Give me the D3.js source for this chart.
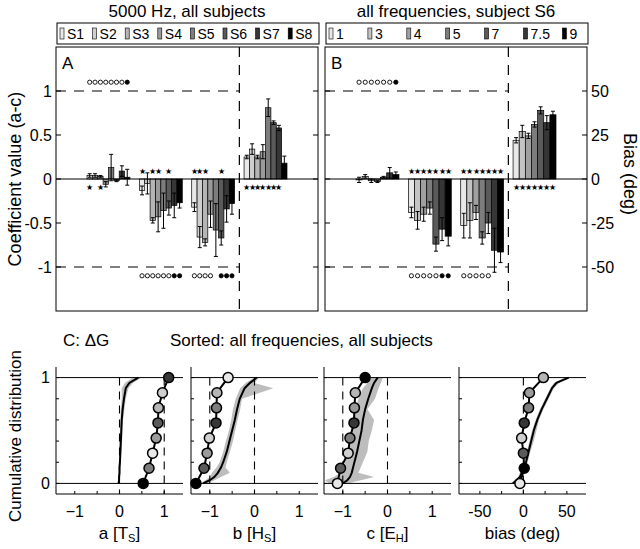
<!DOCTYPE html>
<html>
<head>
<meta charset="utf-8">
<script src="https://cdn.jsdelivr.net/npm/d3@7"></script>
<style>
body { margin: 0; background: #fff; }
svg { font-family: "Liberation Sans", Arial, sans-serif; }
</style>
</head>
<body>
<svg id="chart" width="640" height="549"></svg>
<script>
// ***************** DATA ********************
var groups = ["a", "b", "c", "bias"];
var subjects = ["S1", "S2", "S3", "S4", "S5", "S6", "S7", "S8"];
var subjectFill = ["#e8e8e8", "#cfcfcf", "#b5b5b5", "#9a9a9a", "#7d7d7d", "#5a5a5a", "#363636", "#000000"];
var freqs = ["1", "3", "4", "5", "7", "7.5", "9"];
var freqFill = ["#e8e8e8", "#c4c4c4", "#a0a0a0", "#7d7d7d", "#5a5a5a", "#363636", "#000000"];

// panel A: 5000 Hz, all subjects (rows a, b, c in coefficient units, bias in deg)
var valsA = [
	[0.04, 0.04, 0.03, -0.06, 0.13, -0.02, 0.09, 0.02],
	[-0.13, -0.05, -0.47, -0.43, -0.36, -0.33, -0.30, -0.27],
	[-0.32, -0.66, -0.72, -0.40, -0.58, -0.67, -0.34, -0.28],
	[12.5, 17, 12.5, 15.5, 40.5, 32, 29, 9]
];
var errsA = [
	[0.02, 0.02, 0.01, 0.03, 0.15, 0.01, 0.06, 0.09],
	[0.05, 0.12, 0.03, 0.17, 0.2, 0.08, 0.14, 0.06],
	[0.05, 0.12, 0.04, 0.15, 0.3, 0.08, 0.15, 0.12],
	[1, 3, 1, 4, 5, 1, 1.5, 4]
];
var starsA = [
	[1, 0, 1, 0, 0, 0, 0, 0],
	[1, 0, 1, 1, 0, 1, 0, 0],
	[1, 1, 1, 0, 0, 1, 0, 0],
	[1, 1, 1, 1, 1, 1, 1, 0]
];
// 0 none, 1 open circle, 2 filled circle
var marksA = [
	[1, 1, 1, 1, 1, 1, 1, 2],
	[1, 1, 1, 1, 1, 1, 2, 2],
	[1, 1, 1, 1, 0, 2, 2, 2],
	[0, 0, 0, 0, 0, 0, 0, 0]
];

// panel B: all frequencies (kHz), subject S6
var valsB = [
	[-0.01, 0.03, -0.02, -0.03, 0.02, 0.07, 0.05],
	[-0.38, -0.47, -0.40, -0.33, -0.74, -0.57, -0.65],
	[-0.53, -0.47, -0.38, -0.67, -0.50, -0.81, -0.83],
	[22, 27, 24.5, 31, 39, 32, 36.5]
];
var errsB = [
	[0.03, 0.02, 0.02, 0.01, 0.01, 0.06, 0.03],
	[0.06, 0.1, 0.08, 0.07, 0.08, 0.13, 0.11],
	[0.14, 0.2, 0.08, 0.07, 0.12, 0.25, 0.12],
	[1.5, 3.5, 1.5, 1.5, 2, 4, 2]
];
var starsB = [
	[0, 0, 0, 0, 0, 0, 0],
	[1, 1, 1, 1, 1, 1, 1],
	[1, 1, 1, 1, 1, 1, 1],
	[1, 1, 1, 1, 1, 1, 1]
];
var marksB = [
	[1, 1, 1, 1, 1, 1, 2],
	[1, 1, 1, 1, 1, 2, 2],
	[1, 1, 1, 1, 1, 0, 0],
	[0, 0, 0, 0, 0, 0, 0]
];

// panel C: cumulative distributions
var cdfLevels = [0, 0.03, 0.06, 0.1, 0.15, 0.2, 0.3, 0.4, 0.5, 0.6, 0.7, 0.8, 0.9, 0.95, 1];
var cdfA = [-0.02, -0.01, -0.01, 0.0, 0.0, 0.01, 0.02, 0.03, 0.04, 0.05, 0.07, 0.1, 0.14, 0.22, 0.42];
var cdfALo = [-0.04, -0.03, -0.03, -0.02, -0.02, -0.01, 0.0, 0.0, 0.01, 0.02, 0.03, 0.05, 0.05, 0.12, 0.3];
var cdfAHi = [0.0, 0.01, 0.01, 0.02, 0.02, 0.03, 0.04, 0.06, 0.07, 0.08, 0.11, 0.14, 0.2, 0.3, 0.5];
var cdfB = [-1.15, -1.0, -0.9, -0.82, -0.75, -0.7, -0.62, -0.56, -0.5, -0.44, -0.39, -0.33, -0.22, -0.1, 0.05];
var cdfBLo = [-1.2, -1.1, -1.0, -0.95, -0.85, -0.78, -0.7, -0.64, -0.57, -0.52, -0.48, -0.42, -0.32, -0.2, 0.0];
var cdfBHi = [-1.05, -0.9, -0.75, -0.55, -0.65, -0.62, -0.55, -0.48, -0.43, -0.38, -0.32, -0.28, 0.42, 0.0, 0.1];
var cdfC = [-1.0, -0.9, -0.84, -0.8, -0.77, -0.74, -0.68, -0.63, -0.58, -0.55, -0.5, -0.43, -0.35, -0.3, -0.22];
var cdfCLo = [-1.3, -1.4, -1.2, -1.05, -1.0, -0.95, -0.9, -0.85, -0.8, -0.78, -0.72, -0.65, -0.55, -0.45, -0.35];
var cdfCHi = [-0.9, -0.6, -0.3, -0.65, -0.6, -0.55, -0.45, -0.42, -0.35, -0.3, -0.45, -0.28, -0.2, -0.15, -0.1];
var cdfD = [-12, -8, -4, -2, 1, 3, 6, 9, 12, 16, 21, 27, 33, 38, 52];
var cdfDLo = [-15, -10, -6, -4, -1, 1, 4, 7, 10, 14, 19, 25, 31, 35, 48];
var cdfDHi = [-9, -6, -2, 0, 3, 5, 8, 12, 15, 18, 23, 29, 35, 41, 55];

// sorted subject values (bottom to top) and which subject each one is
var circA = [0.53, 0.66, 0.74, 0.82, 0.86, 0.87, 0.96, 1.1];
var circB = [-1.31, -1.13, -1.06, -1.01, -0.86, -0.85, -0.84, -0.59];
var circC = [-1.12, -1.05, -0.88, -0.84, -0.75, -0.74, -0.72, -0.5];
var circD = [-4, 1, 0, -2, 1, 6, 7, 23];
var circErrA = [0, 0, 0, 0, 0, 0, 0, 0];
var circErrB = [0, 0.08, 0, 0.06, 0, 0, 0, 0];
var circErrC = [0, 0.07, 0.12, 0, 0, 0, 0.06, 0];
var circErrD = [0, 0, 0, 0, 0, 0, 0, 0];
var orderA = [7, 4, 0, 3, 5, 2, 1, 6];
var orderB = [7, 5, 3, 1, 6, 4, 2, 0];
var orderC = [0, 5, 1, 4, 6, 3, 2, 7];
var orderD = [0, 7, 5, 1, 6, 4, 3, 2];

// ***************** LAYOUT ********************
var svg = d3.select("#chart");
var topY = 47, botY = 311;
var y = d3.scaleLinear().domain([-1.5, 1.5]).range([botY, topY]);
var yBias = d3.scaleLinear().domain([-75, 75]).range([botY, topY]);

var text = function(x, yy, str, size, anchor) {
	return svg.append("text")
		.attr("x", x)
		.attr("y", yy)
		.attr("font-size", size)
		.attr("text-anchor", anchor || "start")
		.attr("fill", "#000")
		.text(str);
};

// ***************** BAR PANEL ********************
var barPanel = function(x0, w, names, fills, vals, errs, stars, marks, letter, title, legendStep) {
	var g = svg.append("g");
	var xg = d3.scaleBand().domain(groups).range([x0 + 31, x0 + 231]).paddingInner(0.18);
	var xb = d3.scaleBand().domain(names).range([0, xg.bandwidth()]);
	var dashX = (xg("c") + xg.bandwidth() + xg("bias")) / 2;

	var rows = [];
	groups.forEach(function(gk, gi) {
		names.forEach(function(n, i) {
			rows.push({ g: gk, gi: gi, i: i, v: vals[gi][i], e: errs[gi][i], star: stars[gi][i], mark: marks[gi][i] });
		});
	});
	var sc = function(d) { return d.gi === 3 ? yBias : y; };
	var cx = function(d) { return xg(d.g) + xb(names[d.i]) + xb.bandwidth() / 2; };

	// title
	text(x0 + w / 2, 17, title, 17, "middle");

	// legend
	g.append("rect")
		.attr("x", x0 + 1).attr("y", 23).attr("width", w).attr("height", 21)
		.attr("fill", "none").attr("stroke", "#000").attr("stroke-width", 1);
	var leg = g.selectAll(".leg").data(names).enter().append("g")
		.attr("transform", function(d, i) { return "translate(" + (x0 + 4 + i * legendStep) + ",0)"; });
	leg.append("rect")
		.attr("x", 0).attr("y", 28).attr("width", 4).attr("height", 11)
		.attr("fill", function(d, i) { return fills[i]; })
		.attr("stroke", "#000").attr("stroke-width", 0.6);
	leg.append("text")
		.attr("x", 7).attr("y", 39).attr("font-size", 14)
		.text(function(d) { return d; });

	// frame
	g.append("rect")
		.attr("x", x0).attr("y", topY).attr("width", w).attr("height", botY - topY)
		.attr("fill", "none").attr("stroke", "#000").attr("stroke-width", 1);

	// dashed guides
	[1, -1].forEach(function(v) {
		g.append("line")
			.attr("x1", x0).attr("x2", dashX)
			.attr("y1", y(v)).attr("y2", y(v))
			.attr("stroke", "#000").attr("stroke-width", 1.2).attr("stroke-dasharray", "10,8");
	});
	g.append("line")
		.attr("x1", dashX).attr("x2", dashX).attr("y1", topY).attr("y2", botY)
		.attr("stroke", "#000").attr("stroke-width", 1.2).attr("stroke-dasharray", "10,8");

	// bars
	g.selectAll(".bar").data(rows).enter().append("rect")
		.attr("x", function(d) { return xg(d.g) + xb(names[d.i]); })
		.attr("y", function(d) { return Math.min(sc(d)(d.v), sc(d)(0)); })
		.attr("width", xb.bandwidth())
		.attr("height", function(d) { return Math.abs(sc(d)(d.v) - sc(d)(0)); })
		.attr("fill", function(d) { return fills[d.i]; })
		.attr("stroke", "#000").attr("stroke-width", 0.7);

	// zero line
	g.append("line")
		.attr("x1", x0).attr("x2", x0 + w).attr("y1", y(0)).attr("y2", y(0))
		.attr("stroke", "#000").attr("stroke-width", 1);

	// error bars
	var eb = g.selectAll(".err").data(rows).enter().append("g");
	eb.append("line")
		.attr("x1", cx).attr("x2", cx)
		.attr("y1", function(d) { return sc(d)(d.v - d.e); })
		.attr("y2", function(d) { return sc(d)(d.v + d.e); })
		.attr("stroke", "#000").attr("stroke-width", 1);
	[-1, 1].forEach(function(s) {
		eb.append("line")
			.attr("x1", function(d) { return cx(d) - 2; })
			.attr("x2", function(d) { return cx(d) + 2; })
			.attr("y1", function(d) { return sc(d)(d.v + s * d.e); })
			.attr("y2", function(d) { return sc(d)(d.v + s * d.e); })
			.attr("stroke", "#000").attr("stroke-width", 1);
	});

	// significance stars, on the other side of zero
	g.selectAll(".star").data(rows.filter(function(d) { return d.star; })).enter().append("text")
		.attr("x", cx)
		.attr("y", function(d) { return y(d.v > 0 ? -0.09 : 0.09); })
		.attr("dy", "0.36em")
		.attr("text-anchor", "middle")
		.attr("font-size", 8)
		.text("\u2605");

	// circle markers beyond +-1
	g.selectAll(".mark").data(rows.filter(function(d) { return d.mark; })).enter().append("circle")
		.attr("cx", cx)
		.attr("cy", function(d) { return y(d.gi === 0 ? 1.1 : -1.1); })
		.attr("r", 2.1)
		.attr("fill", function(d) { return d.mark === 2 ? "#000" : "#fff"; })
		.attr("stroke", "#000").attr("stroke-width", 0.9);

	// inner ticks
	var tk = [-1, -0.5, 0, 0.5, 1];
	g.selectAll(".tl").data(tk).enter().append("line")
		.attr("x1", x0).attr("x2", x0 + 5)
		.attr("y1", function(d) { return y(d); }).attr("y2", function(d) { return y(d); })
		.attr("stroke", "#000");
	g.selectAll(".tr").data(tk).enter().append("line")
		.attr("x1", x0 + w - 5).attr("x2", x0 + w)
		.attr("y1", function(d) { return y(d); }).attr("y2", function(d) { return y(d); })
		.attr("stroke", "#000");

	text(x0 + 6, 69, letter, 17);
};

barPanel(56, 262, subjects, subjectFill, valsA, errsA, starsA, marksA, "A", "5000 Hz, all subjects", 32.6);
barPanel(325, 262, freqs, freqFill, valsB, errsB, starsB, marksB, "B", "all frequencies, subject S6", 38.9);

// left axis labels (coefficient)
svg.selectAll(".yl").data([-1, -0.5, 0, 0.5, 1]).enter().append("text")
	.attr("x", 52).attr("y", function(d) { return y(d); }).attr("dy", "0.36em")
	.attr("text-anchor", "end").attr("font-size", 16)
	.text(function(d) { return String(d); });
// right axis labels (bias)
svg.selectAll(".yr").data([-50, -25, 0, 25, 50]).enter().append("text")
	.attr("x", 591).attr("y", function(d) { return yBias(d); }).attr("dy", "0.36em")
	.attr("font-size", 16)
	.text(function(d) { return String(d); });

svg.append("text")
	.attr("transform", "translate(21,179) rotate(-90)")
	.attr("text-anchor", "middle").attr("font-size", 18)
	.text("Coefficient value (a-c)");
svg.append("text")
	.attr("transform", "translate(624,174) rotate(90)")
	.attr("text-anchor", "middle").attr("font-size", 18)
	.text("Bias (deg)");

// ***************** CUMULATIVE PANELS ********************
text(63, 346, "C: \u0394G", 17);
text(170, 346, "Sorted: all frequencies, all subjects", 17);
svg.append("text")
	.attr("transform", "translate(21,436) rotate(-90)")
	.attr("text-anchor", "middle").attr("font-size", 17)
	.text("Cumulative distribution");

var cTop = 367, cBot = 494, cW = 127;
var yc = d3.scaleLinear().domain([-0.1, 1.1]).range([cBot, cTop]);

var cPanels = [
	{ left: 56, dom: [-1.42, 1.42], ticks: [-1, -0.5, 0, 0.5, 1], labels: [-1, 0, 1], dash: [0, 1],
	  cdf: cdfA, lo: cdfALo, hi: cdfAHi, pts: circA, err: circErrA, order: orderA, name: "a [T", sub: "S" },
	{ left: 191, dom: [-1.42, 1.42], ticks: [-1, -0.5, 0, 0.5, 1], labels: [-1, 0, 1], dash: [-1, 0],
	  cdf: cdfB, lo: cdfBLo, hi: cdfBHi, pts: circB, err: circErrB, order: orderB, name: "b [H", sub: "S" },
	{ left: 324, dom: [-1.42, 1.42], ticks: [-1, -0.5, 0, 0.5, 1], labels: [-1, 0, 1], dash: [-1, 0],
	  cdf: cdfC, lo: cdfCLo, hi: cdfCHi, pts: circC, err: circErrC, order: orderC, name: "c [E", sub: "H" },
	{ left: 459, dom: [-74, 72], ticks: [-50, -25, 0, 25, 50], labels: [-50, 0, 50], dash: [0],
	  cdf: cdfD, lo: cdfDLo, hi: cdfDHi, pts: circD, err: circErrD, order: orderD, name: "bias (deg)", sub: "", plain: true }
];

cPanels.forEach(function(p, pi) {
	var g = svg.append("g");
	var xc = d3.scaleLinear().domain(p.dom).range([p.left, p.left + cW]);
	var fmt = p.plain ? function(d) { return String(d); } : d3.format("d");

	// band
	var band = cdfLevels.map(function(l, i) { return { p: l, lo: p.lo[i], hi: p.hi[i], x: p.cdf[i] }; });
	g.append("path").datum(band)
		.attr("d", d3.area().y(function(d) { return yc(d.p); })
			.x0(function(d) { return xc(d.lo); }).x1(function(d) { return xc(d.hi); }))
		.attr("fill", "#bdbdbd");

	// dashed references
	p.dash.forEach(function(v) {
		g.append("line")
			.attr("x1", xc(v)).attr("x2", xc(v)).attr("y1", yc(1)).attr("y2", cBot)
			.attr("stroke", "#000").attr("stroke-width", 1.1).attr("stroke-dasharray", "8,6");
	});
	// levels 0 and 1
	[0, 1].forEach(function(v) {
		g.append("line")
			.attr("x1", p.left).attr("x2", p.left + cW).attr("y1", yc(v)).attr("y2", yc(v))
			.attr("stroke", "#000").attr("stroke-width", 1);
	});

	// cumulative curve
	g.append("path").datum(band)
		.attr("d", d3.line().x(function(d) { return xc(d.x); }).y(function(d) { return yc(d.p); }))
		.attr("fill", "none").attr("stroke", "#000").attr("stroke-width", 2);

	// sorted subject circles
	var pts = p.pts.map(function(v, i) { return { x: v, p: i / (p.pts.length - 1), e: p.err[i], s: p.order[i] }; });
	g.append("path").datum(pts)
		.attr("d", d3.line().x(function(d) { return xc(d.x); }).y(function(d) { return yc(d.p); }))
		.attr("fill", "none").attr("stroke", "#000").attr("stroke-width", 2);
	g.selectAll(".he").data(pts.filter(function(d) { return d.e > 0; })).enter().append("line")
		.attr("x1", function(d) { return xc(d.x - d.e); }).attr("x2", function(d) { return xc(d.x + d.e); })
		.attr("y1", function(d) { return yc(d.p); }).attr("y2", function(d) { return yc(d.p); })
		.attr("stroke", "#000").attr("stroke-width", 1.5);
	g.selectAll(".pt").data(pts).enter().append("circle")
		.attr("cx", function(d) { return xc(d.x); })
		.attr("cy", function(d) { return yc(d.p); })
		.attr("r", 5)
		.attr("fill", function(d) { return subjectFill[d.s]; })
		.attr("stroke", "#000").attr("stroke-width", 1.5);

	// axes (left and bottom only, inner ticks)
	g.append("line").attr("x1", p.left).attr("x2", p.left).attr("y1", cTop).attr("y2", cBot).attr("stroke", "#000");
	g.append("line").attr("x1", p.left).attr("x2", p.left + cW).attr("y1", cBot).attr("y2", cBot).attr("stroke", "#000");
	g.selectAll(".lt").data([0, 0.2, 0.4, 0.6, 0.8, 1]).enter().append("line")
		.attr("x1", p.left).attr("x2", p.left + 3)
		.attr("y1", function(d) { return yc(d); }).attr("y2", function(d) { return yc(d); })
		.attr("stroke", "#000");
	g.selectAll(".bt").data(p.ticks).enter().append("line")
		.attr("x1", function(d) { return xc(d); }).attr("x2", function(d) { return xc(d); })
		.attr("y1", cBot).attr("y2", cBot - 3)
		.attr("stroke", "#000");
	g.selectAll(".bl").data(p.labels).enter().append("text")
		.attr("x", function(d) { return xc(d); }).attr("y", 517)
		.attr("text-anchor", "middle").attr("font-size", 16)
		.text(fmt);

	var t = g.append("text")
		.attr("x", p.left + cW / 2).attr("y", 539)
		.attr("text-anchor", "middle").attr("font-size", 17);
	t.append("tspan").text(p.name);
	if (p.sub) {
		t.append("tspan").attr("dy", 3).attr("font-size", 11).text(p.sub);
		t.append("tspan").attr("dy", -3).text("]");
	}

	if (pi === 0) {
		[0, 1].forEach(function(v) {
			svg.append("text")
				.attr("x", 50).attr("y", yc(v)).attr("dy", "0.36em")
				.attr("text-anchor", "end").attr("font-size", 16)
				.text(v);
		});
	}
});
</script>
</body>
</html>
